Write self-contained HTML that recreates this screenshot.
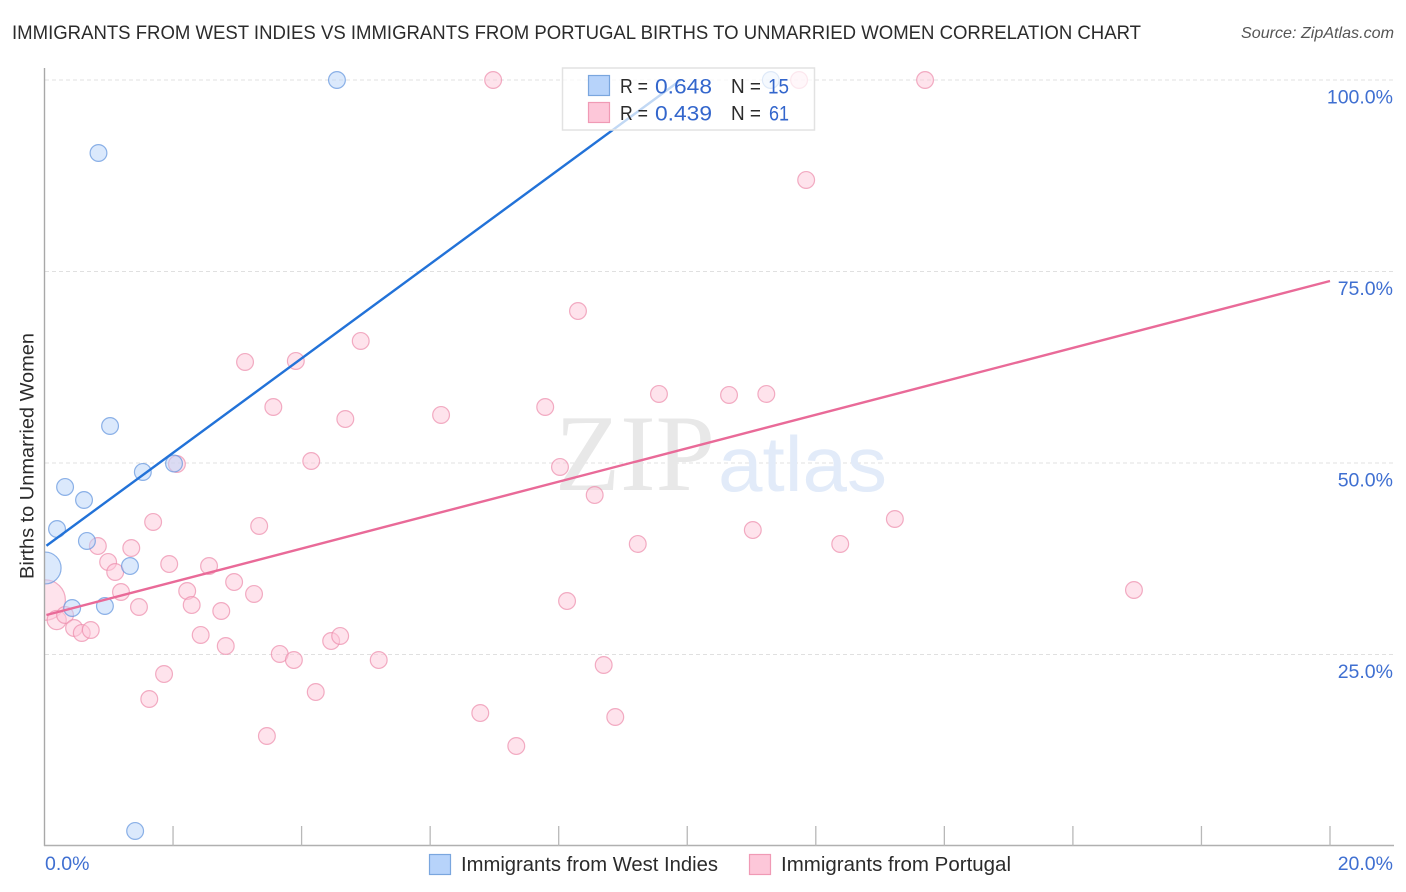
<!DOCTYPE html>
<html lang="en">
<head>
<meta charset="utf-8">
<title>Immigrants from West Indies vs Immigrants from Portugal Births to Unmarried Women Correlation Chart</title>
<style>
html,body{margin:0;padding:0;background:#fff;width:1406px;height:892px;overflow:hidden}
svg{display:block;font-family:"Liberation Sans",sans-serif}
</style>
</head>
<body>
<svg id="chart" xmlns="http://www.w3.org/2000/svg" width="1406" height="892" viewBox="0 0 1406 892">
  <defs>
    <clipPath id="plot-clip"><rect x="45" y="60" width="1349" height="786"/></clipPath>
  </defs>
  <rect width="1406" height="892" fill="#fff"/>
  <text x="12" y="39" font-size="19.5" fill="#2b2b2b" textLength="1129" lengthAdjust="spacingAndGlyphs">IMMIGRANTS FROM WEST INDIES VS IMMIGRANTS FROM PORTUGAL BIRTHS TO UNMARRIED WOMEN CORRELATION CHART</text>
  <text x="1241" y="38" font-size="16" font-style="italic" fill="#555" textLength="153" lengthAdjust="spacingAndGlyphs">Source: ZipAtlas.com</text>
  <g id="grid"></g>
  <g>
    <text x="555" y="490" font-family="'Liberation Serif',serif" font-size="109" fill="#e8e8e8" textLength="160" lengthAdjust="spacingAndGlyphs">ZIP</text>
    <text x="718" y="491" font-size="78" fill="#e2ebf9" textLength="169" lengthAdjust="spacingAndGlyphs">atlas</text>
  </g>
  <g id="points" clip-path="url(#plot-clip)"></g>
  <g id="trends"></g>
  <g id="axes"></g>
  <text transform="translate(33.5 456) rotate(-90)" font-size="19.5" fill="#2b2b2b" text-anchor="middle" textLength="246" lengthAdjust="spacingAndGlyphs">Births to Unmarried Women</text>

  <g>
    <rect x="562.5" y="68" width="252" height="62" fill="#fff" fill-opacity="0.72" stroke="#e2e2e2" stroke-width="1.5"/>
    <rect x="588.5" y="75.5" width="21" height="20" fill="#b7d3fa" stroke="#7aa6de" stroke-width="1.2"/>
    <rect x="588.5" y="102.5" width="21" height="20" fill="#fdc7d9" stroke="#f09ab5" stroke-width="1.2"/>
    <text x="620" y="93" font-size="20" fill="#2b2b2b" textLength="28" lengthAdjust="spacingAndGlyphs">R =</text>
    <text x="655" y="93.5" font-size="21.5" fill="#3366cc" textLength="57" lengthAdjust="spacingAndGlyphs">0.648</text>
    <text x="731" y="93" font-size="20" fill="#2b2b2b" textLength="30" lengthAdjust="spacingAndGlyphs">N =</text>
    <text x="768" y="93.5" font-size="21.5" fill="#3366cc" textLength="21" lengthAdjust="spacingAndGlyphs">15</text>
    <text x="620" y="120" font-size="20" fill="#2b2b2b" textLength="28" lengthAdjust="spacingAndGlyphs">R =</text>
    <text x="655" y="120.5" font-size="21.5" fill="#3366cc" textLength="57" lengthAdjust="spacingAndGlyphs">0.439</text>
    <text x="731" y="120" font-size="20" fill="#2b2b2b" textLength="30" lengthAdjust="spacingAndGlyphs">N =</text>
    <text x="769" y="120.5" font-size="21.5" fill="#3366cc" textLength="20" lengthAdjust="spacingAndGlyphs">61</text>
  </g>

  <g>
    <rect x="429.5" y="854.5" width="21" height="20" fill="#b7d3fa" stroke="#7aa6de" stroke-width="1.2"/>
    <text x="461" y="871" font-size="20" fill="#2b2b2b" textLength="257" lengthAdjust="spacingAndGlyphs">Immigrants from West Indies</text>
    <rect x="749.5" y="854.5" width="21" height="20" fill="#fdc7d9" stroke="#f09ab5" stroke-width="1.2"/>
    <text x="781" y="871" font-size="20" fill="#2b2b2b" textLength="230" lengthAdjust="spacingAndGlyphs">Immigrants from Portugal</text>
  </g>
</svg>

<script>
/* Chart data: x = share of immigrants (%), y = births to unmarried women (%) */
const westIndiesX = [4.55, 0.84, 11.30, 1.02, 0.32, 0.615, 1.53, 2.015, 0.195, 0.66, 1.33, 0.01, 0.43, 0.94, 1.41];
const westIndiesY = [100, 90.47, 100, 54.83, 46.87, 45.17, 48.83, 49.93, 41.38, 39.82, 36.55, 36.29, 31.07, 31.33, 1.96];
const westIndiesWeight = [1, 1, 1, 1, 1, 1, 1, 1, 1, 1, 1, 3.6, 1, 1, 1];

const portugalX = [6.98, 11.74, 13.70, 11.85, 8.30, 4.92, 3.12, 3.91, 3.56, 4.68, 6.17, 7.79, 9.56, 10.65, 11.23, 4.15, 2.06, 8.02, 8.56, 1.69, 3.34, 13.23, 11.02, 9.23, 12.38, 0.83, 1.35, 0.99, 1.94, 1.10, 2.56, 2.95, 1.19, 2.22, 3.26, 2.29, 1.47, 2.75, 8.13, 16.95, 0.01, 0.19, 0.32, 0.46, 0.58, 0.72, 2.43, 2.82, 4.46, 4.60, 3.66, 3.88, 5.20, 8.70, 1.86, 4.22, 1.63, 6.78, 8.88, 3.46, 7.34];
const portugalY = [100, 100, 100, 86.95, 69.84, 65.93, 63.19, 63.32, 57.31, 55.74, 56.27, 57.31, 59.01, 58.88, 59.01, 50.26, 49.87, 49.48, 45.82, 42.30, 41.78, 42.69, 41.25, 39.43, 39.43, 39.16, 38.90, 37.08, 36.81, 35.77, 36.55, 34.46, 33.16, 33.29, 32.90, 31.46, 31.20, 30.68, 31.98, 33.42, 32.11, 29.50, 30.16, 28.46, 27.81, 28.20, 27.55, 26.11, 26.76, 27.42, 25.07, 24.28, 24.28, 23.63, 22.45, 20.10, 19.19, 17.36, 16.84, 14.36, 13.05];
const portugalWeight = [1, 1, 1, 1, 1, 1, 1, 1, 1, 1, 1, 1, 1, 1, 1, 1, 1, 1, 1, 1, 1, 1, 1, 1, 1, 1, 1, 1, 1, 1, 1, 1, 1, 1, 1, 1, 1, 1, 1, 1, 5.8, 1.3, 1, 1, 1, 1, 1, 1, 1, 1, 1, 1, 1, 1, 1, 1, 1, 1, 1, 1, 1];

const westIndiesTrendX = [0.03, 9.9];
const westIndiesTrendY = [39.2, 100];
const portugalTrendX = [0.03, 20];
const portugalTrendY = [30.16, 73.76];

const yTickValues = [25, 50, 75, 100];
const yTickLabels = ["25.0%", "50.0%", "75.0%", "100.0%"];
const xTickValues = [2, 4, 6, 8, 10, 12, 14, 16, 18, 20];
const xEndValues = [0, 20];
const xEndLabels = ["0.0%", "20.0%"];

/* Axis functions */
function xScale(v) { return 44.5 + v * 64.275; }
function yScale(v) { return 846 - v * 7.66; }

const NS = "http://www.w3.org/2000/svg";
function make(tag, attrs, parent) {
  const el = document.createElementNS(NS, tag);
  for (const k in attrs) el.setAttribute(k, attrs[k]);
  parent.appendChild(el);
  return el;
}

const gridLayer = document.getElementById("grid");
const pointLayer = document.getElementById("points");
const trendLayer = document.getElementById("trends");
const axisLayer = document.getElementById("axes");

/* Gridlines, y labels */
yTickValues.forEach(function (v, i) {
  const line = make("line", {x1: 45, x2: 1394, y1: yScale(v), y2: yScale(v), stroke: "#e0e0e0", "stroke-width": 1, "stroke-dasharray": "4 3"}, gridLayer);
  
  
  const label = make("text", {x: 1393, y: yScale(v) + 23.5, "font-size": 19.5, fill: "#3f6fd1", "text-anchor": "end"}, axisLayer);
  label.textContent = yTickLabels[i];
  
  
});

/* Scatter points */
function drawSeries(xs, ys, weights, fill, stroke, name) {
  xs.forEach(function (x, i) {
    const c = make("circle", {
      cx: xScale(x), cy: yScale(ys[i]), r: 8.4 * Math.sqrt(weights[i]),
      fill: fill, "fill-opacity": 0.5, stroke: stroke, "stroke-opacity": 0.7, "stroke-width": 1.2
    }, pointLayer);
    
    
  });
}
drawSeries(portugalX, portugalY, portugalWeight, "#fdc7d9", "#ec8cab", "point-portugal");
drawSeries(westIndiesX, westIndiesY, westIndiesWeight, "#b7d3fa", "#5f93dd", "point-west-indies");

/* Trend lines */
const blueTrend = make("line", {
  x1: xScale(westIndiesTrendX[0]), y1: yScale(westIndiesTrendY[0]),
  x2: xScale(westIndiesTrendX[1]), y2: yScale(westIndiesTrendY[1]),
  stroke: "#2272d8", "stroke-width": 2.4
}, trendLayer);


const pinkTrend = make("line", {
  x1: xScale(portugalTrendX[0]), y1: yScale(portugalTrendY[0]),
  x2: xScale(portugalTrendX[1]), y2: yScale(portugalTrendY[1]),
  stroke: "#e96a98", "stroke-width": 2.4
}, trendLayer);



/* Axes */
const yAxis = make("line", {x1: 44.5, x2: 44.5, y1: 68, y2: 846, stroke: "#a8a8a8", "stroke-width": 1.4}, axisLayer);


const xAxis = make("line", {x1: 44, x2: 1394, y1: 845.5, y2: 845.5, stroke: "#b0b0b0", "stroke-width": 1.4}, axisLayer);


xTickValues.forEach(function (v) {
  const t = make("line", {x1: xScale(v), x2: xScale(v), y1: 826, y2: 846, stroke: "#b8b8b8", "stroke-width": 1.3}, axisLayer);
  
  
});
xEndValues.forEach(function (v, i) {
  const t = make("text", {
    x: i === 0 ? xScale(v) + 0.5 : 1393, y: 870, "font-size": 19.5, fill: "#3f6fd1",
    "text-anchor": i === 0 ? "start" : "end"
  }, axisLayer);
  t.textContent = xEndLabels[i];
  
  
});
</script>
</body>
</html>
